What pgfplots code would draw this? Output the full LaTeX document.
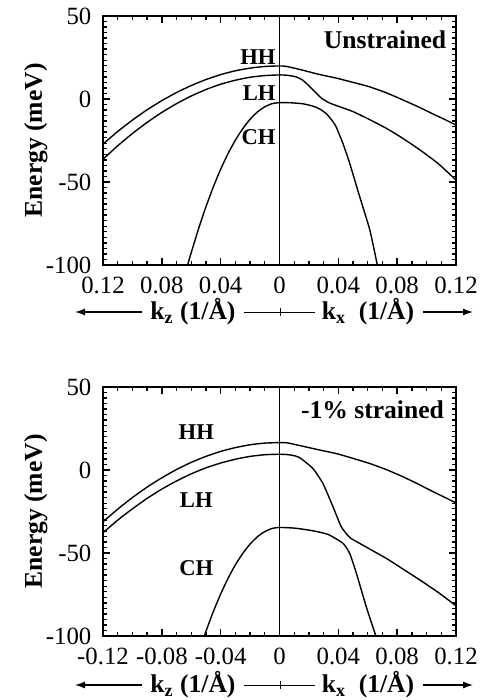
\documentclass[border=0pt]{standalone}
\usepackage{fontspec}
\setmainfont{Liberation Serif}
\usepackage{pgfplots}
\pgfplotsset{compat=1.18}
\usetikzlibrary{arrows.meta}

\pgfplotsset{
  bandaxis/.style={
    scale only axis,
    width=176.5pt, height=124.5pt,
    anchor=south west,
    line width=1pt,
    xmin=-0.12, xmax=0.12,
    ymin=-100, ymax=50,
    xtick={-0.12,-0.08,-0.04,0,0.04,0.08,0.12},
    ytick={-100,-50,0,50},
    yticklabels={\textrm{-100},\textrm{-50},\textrm{0},\textrm{50}},
    minor x tick num=3,
    minor y tick num=14,
    xtick pos=both, ytick pos=both,
    xtick align=inside, ytick align=inside,
    major tick length=3.5pt,
    minor tick length=2pt,
    tick style={black, line width=0.7pt},
    axis on top,
    tick label style={font=\fontsize{12.4}{14}\selectfont},
    x tick label style={yshift=-2pt},
    y tick label style={xshift=-2pt},
    ylabel={\bfseries Energy (meV)},
    every axis y label/.style={at={(axis description cs:-0.19,0.5)},
      rotate=90, anchor=center, font=\fontsize{12.8}{14}\selectfont},
  },
  band/.style={black, mark=none, line width=0.7pt, smooth, tension=0.35},
}
\tikzset{bandlbl/.style={font=\fontsize{11.3}{13}\selectfont\bfseries, inner sep=0pt}}

\begin{document}
\begin{tikzpicture}

% ---------------- unstrained ----------------
\begin{axis}[bandaxis, at={(51.5pt,217.5pt)},
  xticklabels={\textrm{0.12},\textrm{0.08},\textrm{0.04},\textrm{0},
               \textrm{0.04},\textrm{0.08},\textrm{0.12}}]
\draw[line width=0.4pt] (axis cs:0,-100) -- (axis cs:0,50);
% HH
\addplot[band] coordinates {
  (-0.12,-27.1) (-0.11,-19.6) (-0.10,-12.7) (-0.09,-6.5) (-0.08,-1.0)
  (-0.07,3.9) (-0.06,8.1) (-0.05,11.7) (-0.04,14.7) (-0.03,17.0)
  (-0.02,18.6) (-0.01,19.6) (0,19.9) (0.005,19.6) (0.016,17.3)
  (0.027,14.8) (0.039,12.5) (0.05,10.0) (0.061,7.4) (0.073,3.6)
  (0.084,-0.6) (0.095,-5.0) (0.105,-9.3) (0.113,-12.6) (0.12,-15.7)
};
% LH
\addplot[band] coordinates {
  (-0.12,-36.3) (-0.11,-28.2) (-0.10,-20.8) (-0.09,-14.1) (-0.08,-8.1)
  (-0.07,-2.8) (-0.06,1.8) (-0.05,5.7) (-0.04,8.9) (-0.03,11.3)
  (-0.02,13.1) (-0.01,14.1) (0,14.5) (0.005,14.3) (0.011,13.4)
  (0.016,11.2) (0.0227,5.6) (0.0284,0.6) (0.034,-2.4) (0.042,-5.0)
  (0.05,-7.6) (0.061,-12.3) (0.0727,-17.7) (0.084,-23.8) (0.0955,-30.7)
  (0.108,-39.0) (0.12,-48.8)
};
% CH
\addplot[band] coordinates {
  (-0.0625,-100) (-0.06,-92.5) (-0.055,-78.1) (-0.05,-64.9) (-0.045,-53.0)
  (-0.04,-42.3) (-0.035,-32.9) (-0.03,-24.8) (-0.025,-17.9) (-0.02,-12.2)
  (-0.015,-7.8) (-0.01,-4.7) (-0.005,-2.8) (0,-2.2) (0.008,-2.3)
  (0.016,-2.9) (0.0227,-4.3) (0.0273,-6.0) (0.032,-9.0) (0.0364,-13.7)
  (0.0386,-17.0) (0.0432,-27.0) (0.0477,-38.7) (0.0545,-58.8)
  (0.0614,-78.9) (0.0665,-100)
};
\node[bandlbl, anchor=east] at (axis cs:-0.002,25.3) {HH};
\node[bandlbl, anchor=east] at (axis cs:-0.002,3.6) {LH};
\node[bandlbl, anchor=east] at (axis cs:-0.002,-22.9) {CH};
\node[bandlbl, font=\fontsize{12.8}{14}\selectfont\bfseries, anchor=east]
  at (axis cs:0.114,35.5) {Unstrained};
\end{axis}

% ---------------- -1% strained ----------------
\begin{axis}[bandaxis, at={(51.5pt,32pt)},
  xticklabels={\textrm{-0.12},\textrm{-0.08},\textrm{-0.04},\textrm{0},
               \textrm{0.04},\textrm{0.08},\textrm{0.12}}]
\draw[line width=0.4pt] (axis cs:0,-100) -- (axis cs:0,50);
% HH
\addplot[band] coordinates {
  (-0.12,-31.2) (-0.11,-23.6) (-0.10,-16.6) (-0.09,-10.3) (-0.08,-4.7)
  (-0.07,0.3) (-0.06,4.6) (-0.05,8.2) (-0.04,11.2) (-0.03,13.5)
  (-0.02,15.2) (-0.01,16.2) (0,16.5) (0.005,16.4) (0.0159,14.3)
  (0.027,12.1) (0.0386,9.9) (0.05,7.0) (0.0614,3.9) (0.073,0.1)
  (0.084,-4.1) (0.093,-7.9) (0.102,-12.0) (0.111,-15.9) (0.12,-19.8)
};
% LH
\addplot[band] coordinates {
  (-0.12,-37.8) (-0.11,-30.2) (-0.10,-23.4) (-0.09,-17.1) (-0.08,-11.5)
  (-0.07,-6.6) (-0.06,-2.3) (-0.05,1.3) (-0.04,4.2) (-0.03,6.5)
  (-0.02,8.2) (-0.01,9.2) (0,9.5) (0.005,9.3) (0.009,8.8)
  (0.0136,7.5) (0.0227,0.9) (0.0295,-8.1) (0.0364,-22.2) (0.042,-34.2)
  (0.0477,-40.6) (0.0545,-44.2) (0.0727,-53.3) (0.084,-59.7)
  (0.0955,-66.3) (0.108,-73.8) (0.12,-81.8)
};
% CH
\addplot[band] coordinates {
  (-0.0511,-100) (-0.05,-97.2) (-0.045,-85.3) (-0.04,-74.7) (-0.035,-65.3)
  (-0.03,-57.1) (-0.025,-50.3) (-0.02,-44.6) (-0.015,-40.2) (-0.01,-37.1)
  (-0.005,-35.2) (0,-34.6) (0.01,-35.0) (0.02,-36.2) (0.028,-37.6)
  (0.034,-39.2) (0.0432,-44.2) (0.0477,-50.2) (0.0523,-62.3)
  (0.059,-82.4) (0.0655,-100)
};
\node[bandlbl] at (axis cs:-0.0566,22.7) {HH};
\node[bandlbl] at (axis cs:-0.0566,-18.2) {LH};
\node[bandlbl] at (axis cs:-0.0566,-59.1) {CH};
\node[bandlbl, font=\fontsize{12.8}{14}\selectfont\bfseries, anchor=east]
  at (axis cs:0.1125,36) {-1\% strained};
\end{axis}

% k-direction captions under each panel
\foreach \yy in {194pt,7.5pt} {
  \draw[-{Latex[length=5pt,width=3.5pt]}, line width=0.6pt]
    (70.8pt,\yy) -- (37.5pt,\yy);
  \node[font=\fontsize{12.8}{14}\selectfont\bfseries] at (96.5pt,\yy)
    {k\textsubscript{z} (1/Å)};
  \draw[line width=0.4pt] (122pt,\yy) -- (157.5pt,\yy);
  \draw[line width=0.4pt] (140pt,\yy-2pt) -- (140pt,\yy+2pt);
  \node[font=\fontsize{12.8}{14}\selectfont\bfseries] at (184pt,\yy)
    {k\textsubscript{x}\ \ (1/Å)};
  \draw[-{Latex[length=5pt,width=3.5pt]}, line width=0.6pt]
    (211.5pt,\yy) -- (236.5pt,\yy);
}
\pgfresetboundingbox
\useasboundingbox (0,0) rectangle (244.5pt,350pt);
\end{tikzpicture}
\end{document}
